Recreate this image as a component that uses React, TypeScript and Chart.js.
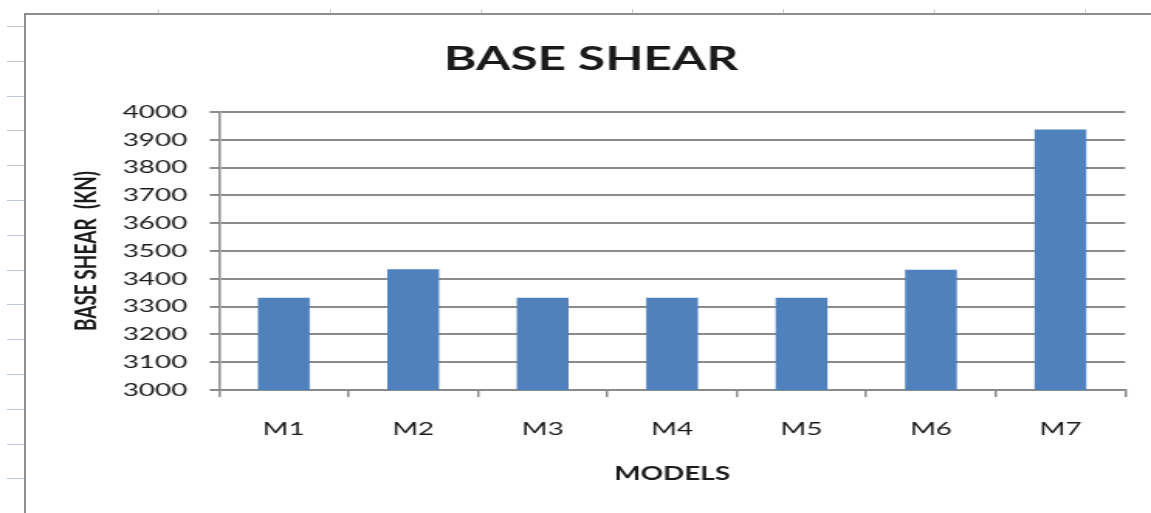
import React, { useEffect, useRef } from "react";
import { Chart, registerables } from "chart.js";

Chart.register(...registerables);

// ---- data ----
const categories = ["M1", "M2", "M3", "M4", "M5", "M6", "M7"];
const baseShearKN = [3332, 3434, 3332, 3332, 3332, 3433, 3937];
const yMin = 3000;
const yMax = 4000;
const yStep = 100;
const chartTitle = "BASE SHEAR";
const yAxisTitle = "BASE SHEAR  (KN)";
const xAxisTitle = "MODELS";

// ---- layout ----
const PAGE_W = 1151;
const PAGE_H = 513;
const INNER_W = 743; // chart drawn narrower, then stretched horizontally
const STRETCH = PAGE_W / INNER_W;

const BAR_COLOR = "#4F81BD";
const LINE_COLOR = "#8a8a8a";
const TEXT_COLOR = "#1a1a1a";

export default function App() {
  const canvasRef = useRef<HTMLCanvasElement | null>(null);

  useEffect(() => {
    if (!canvasRef.current) return;
    const chart = new Chart(canvasRef.current, {
      type: "bar",
      data: {
        labels: categories,
        datasets: [
          {
            label: yAxisTitle,
            data: baseShearKN,
            backgroundColor: BAR_COLOR,
            borderWidth: 0,
            barPercentage: 0.4,
            categoryPercentage: 1,
          },
        ],
      },
      options: {
        animation: false,
        responsive: true,
        maintainAspectRatio: false,
        devicePixelRatio: 1,
        layout: { padding: { left: 36.7, right: 16.7, top: 0, bottom: 20 } },
        plugins: {
          legend: { display: false },
          tooltip: { enabled: false },
          title: {
            display: true,
            text: chartTitle,
            color: TEXT_COLOR,
            font: { family: "Lato", weight: "bold", size: 32 },
            padding: { top: 40, bottom: 33.6 },
          },
        },
        scales: {
          x: {
            grid: {
              display: true,
              drawOnChartArea: false,
              drawTicks: true,
              tickLength: 7,
              color: LINE_COLOR,
              lineWidth: 1.5,
              offset: true,
            },
            border: { display: true, color: LINE_COLOR, width: 1.5 },
            ticks: {
              color: TEXT_COLOR,
              font: { family: "Lato", size: 18 },
              padding: 21,
            },
            title: {
              display: true,
              text: xAxisTitle,
              color: TEXT_COLOR,
              font: { family: "Lato", weight: "bold", size: 18 },
              padding: { top: 0, bottom: 8 },
            },
            afterFit: (s: any) => {
              s.height = 103;
            },
          },
          y: {
            min: yMin,
            max: yMax,
            ticks: {
              stepSize: yStep,
              color: TEXT_COLOR,
              font: { family: "Lato", size: 18 },
              padding: 14.5,
              callback: (v: any) => String(v),
            },
            grid: {
              color: LINE_COLOR,
              lineWidth: 2,
              tickLength: 6,
            },
            border: { display: true, color: LINE_COLOR, width: 1.5 },
            title: {
              display: true,
              text: yAxisTitle,
              color: TEXT_COLOR,
              font: { family: "Lato", weight: "bold", size: 19 },
              padding: { top: 7.4, bottom: 0 },
            },
            afterFit: (s: any) => {
              s.width = 104.7;
            },
          },
        },
      },
    });
    return () => chart.destroy();
  }, []);

  // spreadsheet-like decoration around the chart frame
  const rowTicks: number[] = [];
  for (let y = 26; y < PAGE_H; y += 34.8) rowTicks.push(Math.round(y));
  const colTicks = [158, 330, 481, 632, 783, 934, 1085];

  return (
    <div
      style={{
        position: "fixed",
        left: 0,
        top: 0,
        width: PAGE_W,
        height: PAGE_H,
        background: "#ffffff",
        overflow: "hidden",
      }}
    >
      {rowTicks.map((y) => (
        <div
          key={"r" + y}
          style={{ position: "absolute", left: 7, top: y, width: 17, height: 1, background: "#bcc6d6" }}
        />
      ))}
      {colTicks.map((x) => (
        <div
          key={"c" + x}
          style={{ position: "absolute", left: x, top: 9, width: 1, height: 5, background: "#c4ccd8" }}
        />
      ))}
      <div style={{ position: "absolute", left: 24, top: 13, width: 2, height: PAGE_H - 13, background: "#8e8e8e" }} />
      <div style={{ position: "absolute", left: 24, top: 13, width: PAGE_W - 24, height: 2, background: "#8e8e8e" }} />
      <div
        style={{
          position: "absolute",
          left: 0,
          top: 0,
          width: INNER_W,
          height: PAGE_H,
          transform: `scaleX(${STRETCH})`,
          transformOrigin: "0 0",
        }}
      >
        <canvas ref={canvasRef} />
      </div>
    </div>
  );
}
